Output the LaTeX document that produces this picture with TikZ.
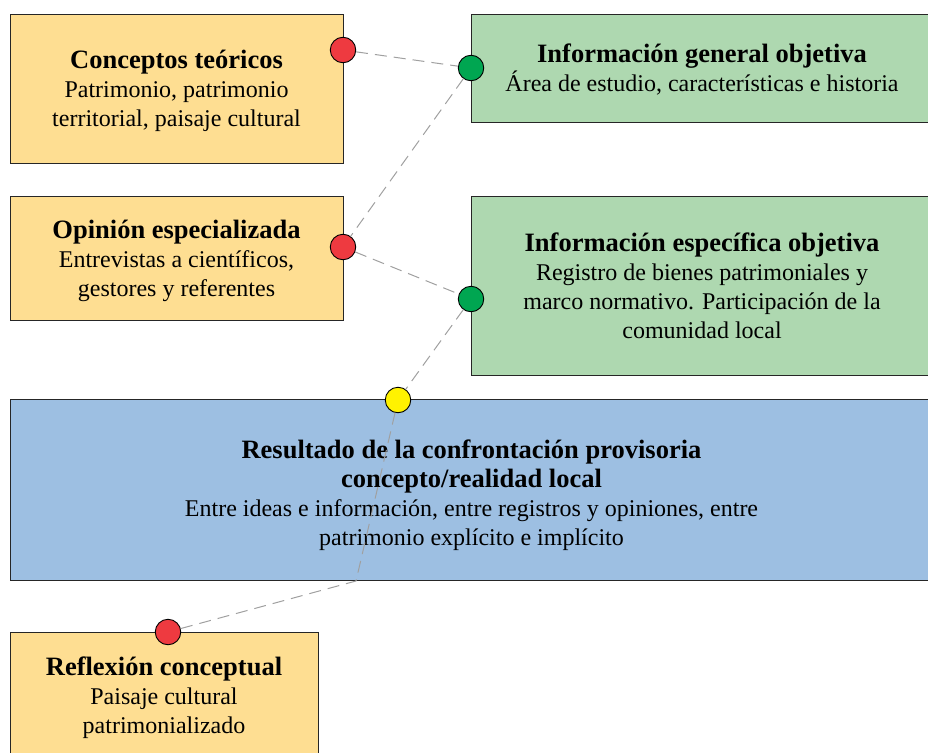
\documentclass[tikz,border=0pt]{standalone}
\usepackage{fontspec}
\setmainfont{Liberation Serif}
\definecolor{concfill}{HTML}{FEDE92}
\definecolor{infofill}{HTML}{AED8B0}
\definecolor{resfill}{HTML}{9DBFE2}
\definecolor{redc}{HTML}{EE3A40}
\definecolor{greenc}{HTML}{00A651}
\definecolor{yellowc}{HTML}{FFF200}
\definecolor{linkgray}{HTML}{A0A0A0}
\newcommand\boxtitle[1]{{\fontsize{26.5pt}{29pt}\selectfont\bfseries #1}}
\begin{document}
\begin{tikzpicture}[x=1pt,y=-1pt,
  box/.style={draw=black!85, line width=0.9pt, inner sep=0pt},
  conc/.style={box, fill=concfill},
  info/.style={box, fill=infofill},
  res/.style={box, fill=resfill},
  boxtext/.style={align=center, inner sep=0pt, font=\fontsize{24pt}{29pt}\selectfont},
  dot/.style={circle, draw=black, line width=0.9pt, minimum size=25.5pt, inner sep=0pt},
  link/.style={draw=linkgray, line width=1pt, dash pattern=on 12pt off 7pt},
]
\useasboundingbox (0,0) rectangle (928,752);
\clip (0,0) rectangle (928,752);

\node[conc, minimum width=333pt, minimum height=149pt] (conceptos) at (176.5,88.5) {};
\node[boxtext] (conceptos-t) at ([yshift=-2.5pt]conceptos.center)
  {\boxtitle{Conceptos teóricos}\\Patrimonio, patrimonio\\territorial, paisaje cultural};
\node[info, minimum width=462pt, minimum height=108pt] (general) at (702,68) {};
\node[boxtext] (general-t) at ([yshift=-1.5pt]general.center)
  {\boxtitle{Información general objetiva}\\Área de estudio, características e historia};
\node[conc, minimum width=333pt, minimum height=124pt] (opinion) at (176.5,258) {};
\node[boxtext] (opinion-t) at ([yshift=-2.5pt]opinion.center)
  {\boxtitle{Opinión especializada}\\Entrevistas a científicos,\\gestores y referentes};
\node[info, minimum width=462pt, minimum height=179pt] (especifica) at (702,285.5) {};
\node[boxtext] (especifica-t) at (especifica.center)
  {\boxtitle{Información específica objetiva}\\Registro de bienes patrimoniales y\\marco normativo. Participación de la\\comunidad local};
\node[res, minimum width=923pt, minimum height=181pt] (resultado) at (471.5,489.5) {};
\node[boxtext] (resultado-t) at ([yshift=-5.5pt]resultado.center)
  {\boxtitle{Resultado de la confrontación provisoria}\\\boxtitle{concepto/realidad local}\\Entre ideas e información, entre registros y opiniones, entre\\patrimonio explícito e implícito};
\node[conc, minimum width=308pt, minimum height=130pt] (reflexion) at (164,697) {};
\node[boxtext] (reflexion-t) at ([yshift=-1pt]reflexion.center)
  {\boxtitle{Reflexión conceptual}\\Paisaje cultural\\patrimonializado};

\node[dot, fill=redc] (r1) at (343,50) {};
\node[dot, fill=greenc] (g1) at (471,68) {};
\node[dot, fill=redc] (r2) at (343,247) {};
\node[dot, fill=greenc] (g2) at (471,299) {};
\node[dot, fill=yellowc] (y1) at (398,400) {};
\coordinate (bend) at (356,581);
\node[dot, fill=redc] (r3) at (168,632) {};

\draw[link] (r1) -- (g1);
\draw[link] (g1) -- (r2);
\draw[link] (r2) -- (g2);
\draw[link] (g2) -- (y1);
\draw[link] (y1) -- (bend) -- (r3);
\end{tikzpicture}
\end{document}
